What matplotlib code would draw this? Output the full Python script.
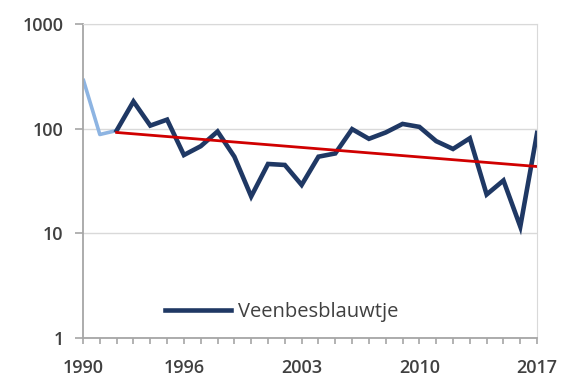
import matplotlib
matplotlib.use("Agg")
import matplotlib.pyplot as plt
from matplotlib.ticker import FixedLocator, NullLocator

# early counts (light blue part)
years_early = [1990, 1991, 1992]
counts_early = [300, 88, 96]

# main series
years = [1992, 1993, 1994, 1995, 1996, 1997, 1998, 1999, 2000, 2001,
         2002, 2003, 2004, 2005, 2006, 2007, 2008, 2009, 2010, 2011,
         2012, 2013, 2014, 2015, 2016, 2017]
counts = [96, 182, 107, 122, 56, 68, 94, 54, 22.5, 46,
          45, 29, 54, 58, 99, 80, 92, 111, 104, 76,
          64, 81, 23.5, 32, 11.6, 91]

# trend line end points
trend_years = [1992, 2017]
trend_vals = [92, 43.5]

xtick_years = [1990, 1996, 2003, 2010, 2017]
minor_years = [1990, 1991, 1992, 1993, 1994, 1995, 1996, 1997, 1998, 1999,
               2000, 2001, 2002, 2003, 2004, 2005, 2006, 2007, 2008, 2009,
               2010, 2011, 2012, 2013, 2014, 2015, 2016, 2017]
ytick_vals = [1, 10, 100, 1000]
ytick_labels = ["1", "10", "100", "1000"]

plt.rcParams['font.family'] = ['Open Sans', 'DejaVu Sans']
txt = '#404040'

fig = plt.figure(figsize=(5.62, 3.78), dpi=100)
ax = fig.add_axes([0.1477, 0.1058, 0.808, 0.8307])

ax.plot(years_early, counts_early, color='#8db4e2', lw=2.6, solid_capstyle='butt')
ax.plot(years, counts, color='#1f3864', lw=3.3, label='Veenbesblauwtje',
        solid_joinstyle='miter')
ax.plot(trend_years, trend_vals, color='#d00000', lw=2.0)

ax.set_yscale('log')
ax.set_ylim(1, 1000)
ax.set_xlim(1990, 2017)
ax.yaxis.set_major_locator(FixedLocator(ytick_vals))
ax.set_yticklabels(ytick_labels)
ax.yaxis.set_minor_locator(NullLocator())
ax.set_xticks(xtick_years)
ax.set_xticklabels([str(y) for y in xtick_years])
ax.xaxis.set_minor_locator(FixedLocator(minor_years))

ax.grid(axis='y', color='#d9d9d9', lw=1.0)
ax.set_axisbelow(True)
for s in ['top', 'right']:
    ax.spines[s].set_color('#d9d9d9')
for s in ['left', 'bottom']:
    ax.spines[s].set_color('#a6a6a6')
    ax.spines[s].set_linewidth(1.3)

ax.tick_params(axis='x', which='both', length=4, color='#a6a6a6', width=1.2,
               pad=11, labelsize=13, labelcolor=txt)
ax.tick_params(axis='y', which='major', length=6, color='#a6a6a6', width=1.2,
               pad=8, labelsize=13, labelcolor=txt)
for lab in ax.get_xticklabels() + ax.get_yticklabels():
    lab.set_fontweight('semibold')

leg = ax.legend(loc='center left', bbox_to_anchor=(0.18, 0.083), frameon=False,
                fontsize=14.5, handlelength=3.3, handletextpad=0.35,
                borderpad=0, borderaxespad=0)
for t in leg.get_texts():
    t.set_color(txt)

fig.savefig('out.png', dpi=100)
